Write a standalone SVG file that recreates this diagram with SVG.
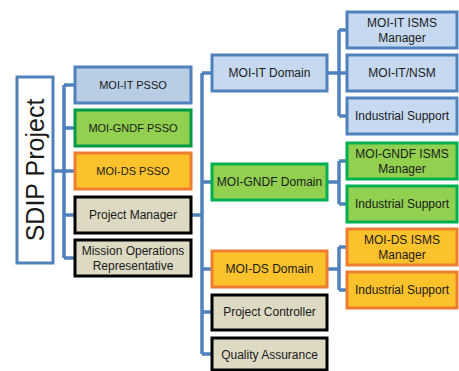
<svg xmlns="http://www.w3.org/2000/svg" width="459" height="371" viewBox="0 0 459 371">
<style>
.b rect{stroke-width:3}
.blue rect{fill:#c6d9f1;stroke:#4f81bd}
.blue2 rect{fill:#b9cde5;stroke:#4f81bd}
.green rect{fill:#92d050;stroke:#00b050}
.green2 rect{fill:#92d050;stroke:#009a46}
.orange rect{fill:#fcc22c;stroke:#ed7d31}
.grey rect{fill:#ddd9c3;stroke:#000}
text{font-family:"Liberation Sans",Arial,sans-serif;font-size:12px;fill:#1a1a1a;text-anchor:middle}
.s{font-size:11px}
#conn path{fill:none;stroke:#4f81bd;stroke-width:3.5}
</style>
<rect width="459" height="371" fill="#fff"/>
<g id="conn">
<path d="M53 171H64M64 85V258M64 85H75M64 128H75M64 171H75M64 215H75M64 258H75"/>
<path d="M191 215H202M202 73V354M202 73H212M202 182H212M202 269H212M202 312H212M202 354H212"/>
<path d="M327 73H339M339 30V116M339 30H347M339 73H347M339 116H347"/>
<path d="M327 182H339M339 161V204M339 161H347M339 204H347"/>
<path d="M327 269H339M339 247V290M339 247H347M339 290H347"/>
</g>
<g id="sdip"><rect x="17" y="77" width="36" height="186" fill="#fff" stroke="#4f81bd" stroke-width="3"/><text transform="translate(44 170) rotate(-90)" style="font-size:25px">SDIP Project</text></g>
<g id="it-psso" class="b blue2"><rect x="75" y="67" width="116" height="36"/><text class="s" x="133" y="89">MOI-IT PSSO</text></g>
<g id="gndf-psso" class="b green2"><rect x="75" y="110" width="116" height="36"/><text class="s" x="133" y="132">MOI-GNDF PSSO</text></g>
<g id="ds-psso" class="b orange"><rect x="75" y="153" width="116" height="36"/><text class="s" x="133" y="175">MOI-DS PSSO</text></g>
<g id="pm" class="b grey"><rect x="75" y="197" width="116" height="36"/><text x="133" y="219">Project Manager</text></g>
<g id="mor" class="b grey"><rect x="75" y="240" width="116" height="36"/><text x="133" y="255">Mission Operations</text><text x="133" y="270">Representative</text></g>
<g id="it-dom" class="b blue"><rect x="212" y="55" width="115" height="36"/><text x="269.5" y="77">MOI-IT Domain</text></g>
<g id="gndf-dom" class="b green"><rect x="212" y="164" width="115" height="36"/><text x="269.5" y="186">MOI-GNDF Domain</text></g>
<g id="ds-dom" class="b orange"><rect x="212" y="251" width="115" height="36"/><text x="269.5" y="273">MOI-DS Domain</text></g>
<g id="pc" class="b grey"><rect x="212" y="295" width="115" height="35"/><text x="269.5" y="316">Project Controller</text></g>
<g id="qa" class="b grey"><rect x="212" y="338" width="115" height="32"/><text x="269.5" y="359">Quality Assurance</text></g>
<g id="it-isms" class="b blue"><rect x="347" y="12" width="110" height="36"/><text x="402" y="27">MOI-IT ISMS</text><text x="402" y="42">Manager</text></g>
<g id="it-nsm" class="b blue"><rect x="347" y="55" width="110" height="36"/><text x="402" y="77">MOI-IT/NSM</text></g>
<g id="it-is" class="b blue"><rect x="347" y="98" width="110" height="36"/><text x="402" y="120">Industrial Support</text></g>
<g id="gndf-isms" class="b green"><rect x="347" y="143" width="110" height="36"/><text x="402" y="158">MOI-GNDF ISMS</text><text x="402" y="173">Manager</text></g>
<g id="gndf-is" class="b green"><rect x="347" y="186" width="110" height="36"/><text x="402" y="208">Industrial Support</text></g>
<g id="ds-isms" class="b orange"><rect x="347" y="229" width="110" height="36"/><text x="402" y="244">MOI-DS ISMS</text><text x="402" y="259">Manager</text></g>
<g id="ds-is" class="b orange"><rect x="347" y="272" width="110" height="36"/><text x="402" y="294">Industrial Support</text></g>
</svg>
